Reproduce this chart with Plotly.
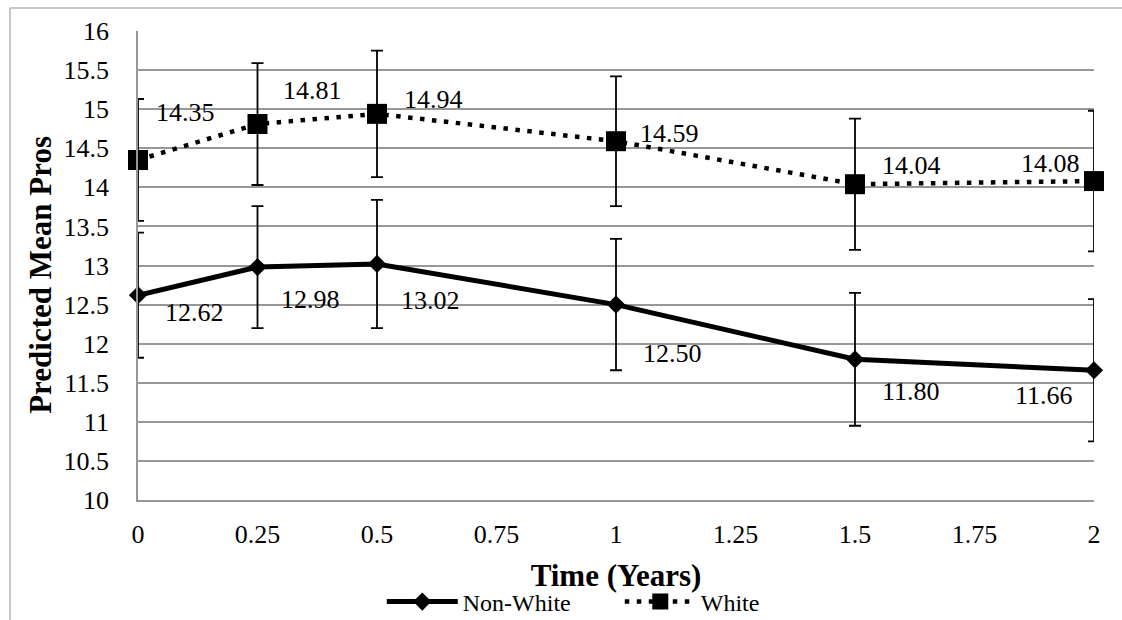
import plotly.graph_objects as go

# Time points (years) and predicted mean scores per group
time_years = [0, 0.25, 0.5, 1, 1.5, 2]
non_white_mean = [12.62, 12.98, 13.02, 12.50, 11.80, 11.66]
non_white_err = [0.80, 0.78, 0.82, 0.84, 0.85, 0.91]
white_mean = [14.35, 14.81, 14.94, 14.59, 14.04, 14.08]
white_err = [0.78, 0.78, 0.81, 0.83, 0.84, 0.90]

x_tick_vals = [0, 0.25, 0.5, 0.75, 1, 1.25, 1.5, 1.75, 2]
x_tick_text = ["0", "0.25", "0.5", "0.75", "1", "1.25", "1.5", "1.75", "2"]
y_tick_vals = [10, 10.5, 11, 11.5, 12, 12.5, 13, 13.5, 14, 14.5, 15, 15.5, 16]
y_tick_text = ["10", "10.5", "11", "11.5", "12", "12.5", "13", "13.5", "14", "14.5", "15", "15.5", "16"]

# pixel offsets of the value labels relative to each point (xshift, yshift)
non_white_label_shift = [(56, -17), (53, -32), (53, -37), (56, -49), (56, -32), (-50, -25)]
white_label_shift = [(47, 47), (55, 34), (56, 14), (53, 8), (56, 19), (-44, 18)]

FONT = "Liberation Serif, Times New Roman, serif"
GRID = "#979797"
TXT = 26

fig = go.Figure()

fig.add_trace(go.Scatter(
    x=time_years, y=non_white_mean, name="Non-White", mode="lines+markers",
    line=dict(color="black", width=5),
    marker=dict(symbol="diamond", size=14, color="black"),
    error_y=dict(type="data", array=non_white_err, visible=True,
                 color="black", thickness=1.8, width=6),
    cliponaxis=False,
))
fig.add_trace(go.Scatter(
    x=time_years, y=white_mean, name="White", mode="lines+markers",
    line=dict(color="black", width=4.5, dash="4.5px,7.5px"),
    marker=dict(symbol="square", size=20, color="black"),
    error_y=dict(type="data", array=white_err, visible=True,
                 color="black", thickness=1.8, width=6),
    cliponaxis=False,
))

annotations = []
for xs, ys, shifts in ((time_years, non_white_mean, non_white_label_shift),
                       (time_years, white_mean, white_label_shift)):
    for xv, yv, (dx, dy) in zip(xs, ys, shifts):
        annotations.append(dict(
            x=xv, y=yv, xref="x", yref="y", text=f"{yv:.2f}", showarrow=False,
            xshift=dx, yshift=dy, font=dict(family=FONT, size=TXT, color="black"),
        ))

# vertical axis title
annotations.append(dict(
    x=-0.1015, y=0.48, xref="paper", yref="paper", text="<b>Predicted Mean Pros</b>",
    textangle=-90, showarrow=False, xanchor="center", yanchor="middle",
    font=dict(family=FONT, size=31, color="black"),
))

# outer chart frame (left and top edges)
shapes = [
    dict(type="line", xref="paper", yref="paper", x0=-0.1339, x1=-0.1339,
         y0=-0.26, y1=1.049, line=dict(color="#b5b5b5", width=1.5)),
    dict(type="line", xref="paper", yref="paper", x0=-0.1339, x1=1.03,
         y0=1.049, y1=1.049, line=dict(color="#b5b5b5", width=1.5)),
]

fig.update_layout(
    width=1122, height=620,
    margin=dict(l=138, r=28, t=31, b=120, autoexpand=False),
    paper_bgcolor="white", plot_bgcolor="white",
    font=dict(family=FONT, size=TXT, color="black"),
    showlegend=True,
    legend=dict(orientation="h", x=0.255, xanchor="left", y=-0.2175, yanchor="middle",
                font=dict(family=FONT, size=24, color="black"),
                itemwidth=71, entrywidth=152, bgcolor="rgba(0,0,0,0)"),
    annotations=annotations,
    shapes=shapes,
)

fig.update_xaxes(
    range=[0, 2], tickvals=x_tick_vals, ticktext=x_tick_text,
    showgrid=False, zeroline=False, showline=True, linecolor=GRID, linewidth=1.8,
    ticks="", ticklabelstandoff=10, automargin=False,
    tickfont=dict(family=FONT, size=TXT, color="black"),
    title=dict(text="<b>Time (Years)</b>", font=dict(family=FONT, size=31, color="black"),
               standoff=16),
)
fig.update_yaxes(
    range=[10, 16], tickvals=y_tick_vals, ticktext=y_tick_text,
    showgrid=True, gridcolor=GRID, gridwidth=1.8,
    zeroline=False, showline=True, linecolor=GRID, linewidth=1.8,
    ticks="", ticklabelstandoff=22, automargin=False,
    tickfont=dict(family=FONT, size=TXT, color="black"),
)

fig.write_html("out.html")
